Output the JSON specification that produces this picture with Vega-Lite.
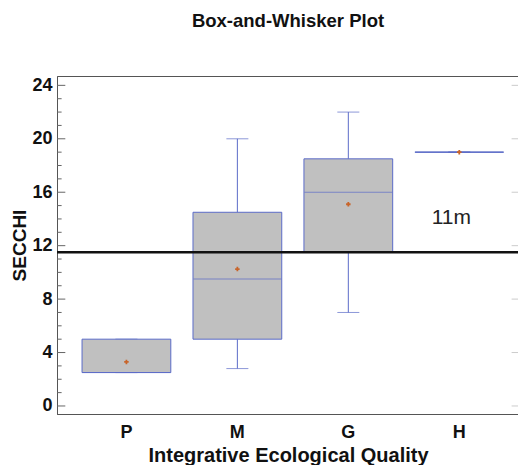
{
  "$schema": "https://vega.github.io/schema/vega-lite/v6.json",
  "autosize": "none",
  "width": 462,
  "height": 338,
  "padding": {"left": 57, "top": 76, "right": 0, "bottom": 51},
  "background": "white",
  "title": {"text": "Box-and-Whisker Plot", "font": "Liberation Sans", "fontSize": 18.5, "fontWeight": "bold", "color": "#111", "anchor": "middle", "offset": 46},
  "config": {
    "view": {"stroke": "#555", "strokeWidth": 1},
    "font": "Liberation Sans"
  },
  "datasets": {
    "boxes": [
      {"cat": "P", "min": 2.5, "q1": 2.5, "median": 2.5, "q3": 5.0, "max": 5.0, "mean": 3.3},
      {"cat": "M", "min": 2.8, "q1": 5.0, "median": 9.5, "q3": 14.5, "max": 20.0, "mean": 10.25},
      {"cat": "G", "min": 7.0, "q1": 11.5, "median": 16.0, "q3": 18.5, "max": 22.0, "mean": 15.1},
      {"cat": "H", "min": 19.0, "q1": 19.0, "median": 19.0, "q3": 19.0, "max": 19.0, "mean": 19.0}
    ],
    "notes": [
      {"cat": "H", "y": 14.1, "label": "11m"}
    ],
    "ref": [
      {"level": 11.5}
    ],
    "majorTicks": [
      {"v": 0}, {"v": 4}, {"v": 8}, {"v": 12}, {"v": 16}, {"v": 20}, {"v": 24}
    ],
    "minorTicks": [
      {"v": 1}, {"v": 2}, {"v": 3}, {"v": 5}, {"v": 6}, {"v": 7}, {"v": 9}, {"v": 10}, {"v": 11},
      {"v": 13}, {"v": 14}, {"v": 15}, {"v": 17}, {"v": 18}, {"v": 19}, {"v": 21}, {"v": 22}, {"v": 23}
    ]
  },
  "resolve": {"scale": {"x": "independent"}},
  "layer": [
    {
      "data": {"name": "boxes"},
      "encoding": {
        "x": {
          "field": "cat", "type": "nominal", "sort": ["P", "M", "G", "H"],
          "scale": {"domain": ["P", "M", "G", "H"], "paddingInner": 0.2, "paddingOuter": 0.182, "align": 0.62},
          "axis": {
            "title": "Integrative Ecological Quality", "titleFont": "Liberation Sans", "titleFontSize": 20, "titleFontWeight": "bold", "titleColor": "#111", "titlePadding": 4,
            "labelAngle": 0, "labelFont": "Liberation Sans", "labelFontSize": 18, "labelFontWeight": "bold", "labelColor": "#111", "labelPadding": 9,
            "ticks": false, "domainColor": "#555", "grid": false
          }
        }
      },
      "layer": [
        {
          "mark": {"type": "rule", "color": "#5b6bc8", "strokeWidth": 1},
          "encoding": {
            "y": {"field": "min", "type": "quantitative", "scale": {"domain": [-0.6, 24.7], "nice": false, "zero": false},
              "axis": {
                "title": "SECCHI", "titleFont": "Liberation Sans", "titleFontSize": 19, "titleFontWeight": "bold", "titleColor": "#111", "titlePadding": 2,
                "values": [0, 4, 8, 12, 16, 20, 24],
                "labelFont": "Liberation Sans", "labelFontSize": 18, "labelFontWeight": "bold", "labelColor": "#111", "labelPadding": 5,
                "ticks": false, "domainColor": "#555", "grid": false
              }},
            "y2": {"field": "q1"}
          }
        },
        {
          "mark": {"type": "rule", "color": "#5b6bc8", "strokeWidth": 1},
          "encoding": {"y": {"field": "q3", "type": "quantitative"}, "y2": {"field": "max"}}
        },
        {
          "mark": {"type": "tick", "color": "#5b6bc8", "size": 22, "thickness": 1},
          "encoding": {"y": {"field": "min", "type": "quantitative"}}
        },
        {
          "mark": {"type": "tick", "color": "#5b6bc8", "size": 22, "thickness": 1},
          "encoding": {"y": {"field": "max", "type": "quantitative"}}
        },
        {
          "mark": {"type": "bar", "fill": "#c0c0c0", "stroke": "#5b6bc8", "strokeWidth": 1},
          "encoding": {"y": {"field": "q1", "type": "quantitative"}, "y2": {"field": "q3"}}
        },
        {
          "mark": {"type": "tick", "color": "#5b6bc8", "size": 88, "thickness": 1},
          "encoding": {"y": {"field": "median", "type": "quantitative"}}
        },
        {
          "mark": {"type": "point", "shape": "cross", "filled": true, "color": "#c8642a", "size": 20, "opacity": 1},
          "encoding": {"y": {"field": "mean", "type": "quantitative"}}
        },
        {
          "data": {"name": "notes"},
          "mark": {"type": "text", "font": "Liberation Sans", "fontSize": 21, "color": "#222", "dx": -8},
          "encoding": {"y": {"field": "y", "type": "quantitative"}, "text": {"field": "label"}}
        }
      ]
    },
    {
      "data": {"name": "ref"},
      "mark": {"type": "rule", "color": "#111", "strokeWidth": 2.5},
      "encoding": {
        "y": {"field": "level", "type": "quantitative"}
      }
    },
    {
      "data": {"name": "majorTicks"},
      "mark": {"type": "rule", "color": "#666", "strokeWidth": 1},
      "encoding": {
        "y": {"field": "v", "type": "quantitative"},
        "x": {"datum": 0, "type": "quantitative", "scale": {"domain": [0, 100], "nice": false, "zero": false}, "axis": null},
        "x2": {"datum": 1.8}
      }
    },
    {
      "data": {"name": "minorTicks"},
      "mark": {"type": "rule", "color": "#666", "strokeWidth": 1},
      "encoding": {
        "y": {"field": "v", "type": "quantitative"},
        "x": {"datum": 0, "type": "quantitative", "scale": {"domain": [0, 100], "nice": false, "zero": false}, "axis": null},
        "x2": {"datum": 1.0}
      }
    },
    {
      "data": {"name": "majorTicks"},
      "mark": {"type": "rule", "color": "#ccc", "strokeWidth": 1},
      "encoding": {
        "y": {"field": "v", "type": "quantitative"},
        "x": {"datum": 98.4, "type": "quantitative", "scale": {"domain": [0, 100], "nice": false, "zero": false}, "axis": null},
        "x2": {"datum": 100}
      }
    }
  ]
}
